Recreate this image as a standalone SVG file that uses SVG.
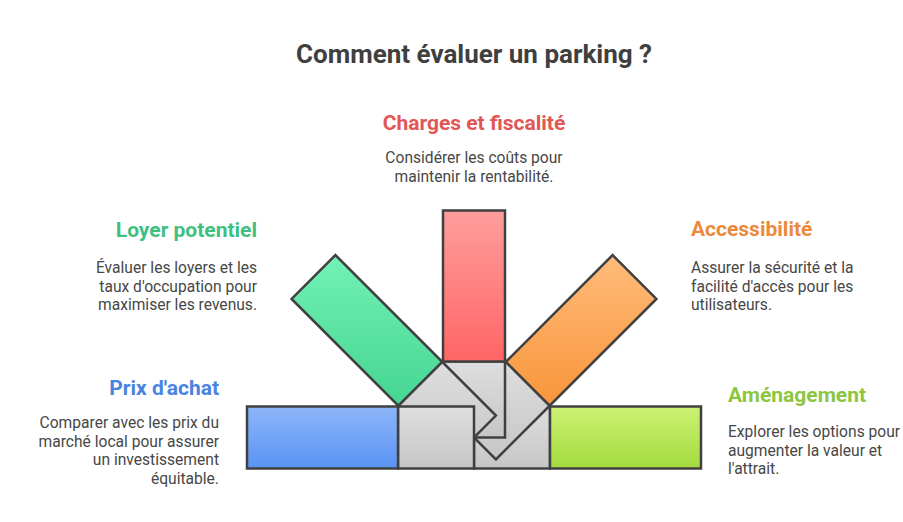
<svg xmlns="http://www.w3.org/2000/svg" width="903" height="522" viewBox="0 0 903 522">
<style>
.t{font-family:Roboto,"Liberation Sans",sans-serif;}
.title{font-size:26px;font-weight:bold;fill:#3f3f3f;}
.h{font-size:21px;font-weight:bold;}
.b{font-size:15.6px;fill:#474747;}
.arm{stroke:#404040;stroke-width:2.5;stroke-linejoin:miter;}
.ext{fill:url(#gGray);}
</style>
<defs>
<linearGradient id="gGray" x1="0" y1="0" x2="0" y2="1"><stop offset="0" stop-color="#dedede"/><stop offset="1" stop-color="#c6c6c6"/></linearGradient>
<linearGradient id="gBlue" x1="0" y1="0" x2="0" y2="1"><stop offset="0" stop-color="#8db6f9"/><stop offset="1" stop-color="#5a93f4"/></linearGradient>
<linearGradient id="gLime" x1="0" y1="0" x2="0" y2="1"><stop offset="0" stop-color="#cdf274"/><stop offset="1" stop-color="#a3db3e"/></linearGradient>
<linearGradient id="gRed" x1="0" y1="0" x2="0" y2="1"><stop offset="0" stop-color="#ff9d9d"/><stop offset="1" stop-color="#ff6565"/></linearGradient>
<linearGradient id="gGreen" x1="0" y1="0" x2="0" y2="1"><stop offset="0" stop-color="#72f2b6"/><stop offset="1" stop-color="#46d592"/></linearGradient>
<linearGradient id="gOrange" x1="0" y1="0" x2="0" y2="1"><stop offset="0" stop-color="#ffbb7a"/><stop offset="1" stop-color="#f8953a"/></linearGradient>
</defs>
<rect width="903" height="522" fill="#ffffff"/>
<text class="t title" x="474" y="63" text-anchor="middle">Comment évaluer un parking ?</text>

<g id="amenagement">
<rect class="arm ext" x="474" y="406.5" width="76" height="62"/>
<rect class="arm" x="550" y="406.5" width="151" height="62" fill="url(#gLime)"/>
<text class="t h" x="728" y="402" fill="#8cc63f">Aménagement</text>
<text class="t b" x="728" y="437">Explorer les options pour</text>
<text class="t b" x="728" y="455.5">augmenter la valeur et</text>
<text class="t b" x="728" y="474">l'attrait.</text>
</g>

<g id="accessibilite">
<polygon class="arm ext" points="505.82,361.84 549.66,405.68 495.92,459.42 452.08,415.58"/>
<polygon class="arm" points="505.82,361.84 549.66,405.68 656.43,298.92 612.59,255.08" fill="url(#gOrange)"/>
<text class="t h" x="691" y="236" fill="#ea8a3a">Accessibilité</text>
<text class="t b" x="691" y="273">Assurer la sécurité et la</text>
<text class="t b" x="691" y="291.5">facilité d'accès pour les</text>
<text class="t b" x="691" y="310">utilisateurs.</text>
</g>

<g id="charges">
<rect class="arm ext" x="443" y="361.5" width="62" height="76"/>
<rect class="arm" x="443" y="210.5" width="62" height="151" fill="url(#gRed)"/>
<text class="t h" x="474" y="130" text-anchor="middle" fill="#e25656">Charges et fiscalité</text>
<text class="t b" x="474" y="163" text-anchor="middle">Considérer les coûts pour</text>
<text class="t b" x="474" y="181.5" text-anchor="middle">maintenir la rentabilité.</text>
</g>

<g id="loyer">
<polygon class="arm ext" points="442.18,361.84 398.34,405.68 452.08,459.42 495.92,415.58"/>
<polygon class="arm" points="442.18,361.84 398.34,405.68 291.57,298.92 335.41,255.08" fill="url(#gGreen)"/>
<text class="t h" x="257" y="237" text-anchor="end" fill="#3fbf80">Loyer potentiel</text>
<text class="t b" x="257" y="273" text-anchor="end">Évaluer les loyers et les</text>
<text class="t b" x="257" y="291.5" text-anchor="end">taux d'occupation pour</text>
<text class="t b" x="257" y="310" text-anchor="end">maximiser les revenus.</text>
</g>

<g id="prix">
<rect class="arm ext" x="398" y="406.5" width="76" height="62"/>
<rect class="arm" x="247" y="406.5" width="151" height="62" fill="url(#gBlue)"/>
<text class="t h" x="219" y="395" text-anchor="end" fill="#4a83e2">Prix d'achat</text>
<text class="t b" x="219" y="428" text-anchor="end">Comparer avec les prix du</text>
<text class="t b" x="219" y="446.5" text-anchor="end">marché local pour assurer</text>
<text class="t b" x="219" y="465" text-anchor="end">un investissement</text>
<text class="t b" x="219" y="483.5" text-anchor="end">équitable.</text>
</g>
<g id="connectors"></g>
</svg>
